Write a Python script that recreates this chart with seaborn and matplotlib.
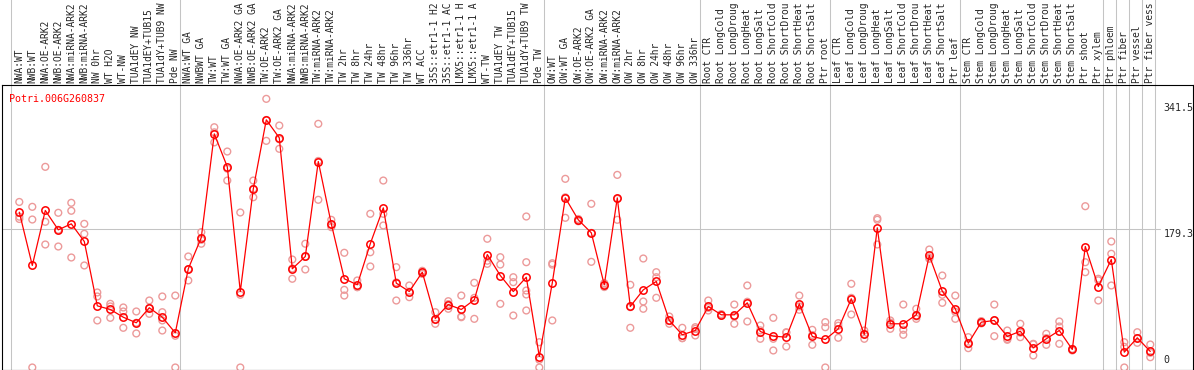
import numpy as np
import pandas as pd
import matplotlib
matplotlib.use('Agg')
import matplotlib.pyplot as plt
import seaborn as sns

# --- Data ---
gene_id = 'Potri.006G260837'

# sample names as far as the reference shows them (long ones are cut there)
samples = [
    'NWA:WT', 'NWB:WT', 'NWA:OE-ARK2', 'NWB:OE-ARK2', 'NWA:miRNA-ARK2', 'NWB:miRNA-ARK2',
    'NW 0hr', 'WT H2O', 'WT-NW', 'TUA1dEY NW', 'TUA1dEY+TUB15', 'TUA1dY+TUB9 NW', 'Pde NW',
    'NWA:WT GA', 'NWBWT GA', 'TW:WT', 'TW:WT GA', 'NWA:OE-ARK2 GA', 'NWB:OE-ARK2 GA',
    'TW:OE-ARK2', 'TW:OE-ARK2 GA', 'NWA:miRNA-ARK2', 'NWB:miRNA-ARK2', 'TW:miRNA-ARK2',
    'TW:miRNA-ARK2', 'TW 2hr', 'TW 8hr', 'TW 24hr', 'TW 48hr', 'TW 96hr', 'TW 336hr',
    'WT ACC', '35S::etr1-1 H2', '35S::etr1-1 AC', 'LMX5::etr1-1 H', 'LMX5::etr1-1 A',
    'WT-TW', 'TUA1dEY TW', 'TUA1dEY+TUB15', 'TUA1dY+TUB9 TW', 'Pde TW',
    'OW:WT', 'OW:WT GA', 'OW:OE-ARK2', 'OW:OE-ARK2 GA', 'OW:miRNA-ARK2', 'OW:miRNA-ARK2',
    'OW 2hr', 'OW 8hr', 'OW 24hr', 'OW 48hr', 'OW 96hr', 'OW 336hr',
    'Root CTR', 'Root LongCold', 'Root LongDroug', 'Root LongHeat', 'Root LongSalt',
    'Root ShortCold', 'Root ShortDrou', 'Root ShortHeat', 'Root ShortSalt', 'Ptr root',
    'Leaf CTR', 'Leaf LongCold', 'Leaf LongDroug', 'Leaf LongHeat', 'Leaf LongSalt',
    'Leaf ShortCold', 'Leaf ShortDrou', 'Leaf ShortHeat', 'Leaf ShortSalt', 'Ptr leaf',
    'Stem CTR', 'Stem LongCold', 'Stem LongDroug', 'Stem LongHeat', 'Stem LongSalt',
    'Stem ShortCold', 'Stem ShortDrou', 'Stem ShortHeat', 'Stem ShortSalt', 'Ptr shoot',
    'Ptr xylem', 'Ptr phloem', 'Ptr fiber', 'Ptr vessel', 'Ptr fiber vess',
]

means = [
    200.8, 131.9, 203.0, 178.0, 185.7, 162.9, 79.7, 75.0, 65.0, 57.8, 77.2, 65.0, 44.8,
    127.6, 168.0, 302.0, 259.4, 98.2, 231.0, 320.2, 296.9, 127.6, 143.5, 266.3, 185.7,
    114.7, 106.9, 160.0, 206.4, 109.0, 98.2, 123.2, 63.3, 81.4, 75.0, 87.5, 146.0, 118.9,
    98.2, 116.7, 14.2,
    109.5, 219.3, 190.9, 174.1, 106.9, 219.3, 78.9, 100.4, 111.2, 60.8, 42.3, 47.8,
    78.9, 68.1, 68.1, 83.6, 46.5, 40.5, 39.2, 82.3, 40.1, 36.2,
    50.0, 88.8, 42.7, 180.6, 56.5, 56.5, 68.1, 144.8, 98.6, 75.9,
    31.4, 58.6, 60.8, 40.1, 46.9, 25.4, 37.1, 47.8, 23.3, 156.4, 104.7,
    139.6, 19.8, 38.4, 20.7,
]

replicates = [
    [214, 195, 192], [207.7, 191.3, 0], [259.4, 188.3, 159], [200, 178, 156.4],
    [212.9, 202.6, 142.2], [185.7, 172.8, 131.9], [97, 91.8, 60.8], [82.3, 78.9, 64.2],
    [77.6, 72.4, 51.3], [72.4, 57.8, 44], [86.6, 77, 69.4], [91.8, 71.5, 60.8, 47.8],
    [93, 41, 0],
    [143.5, 127, 112.5], [175, 165, 160], [310.6, 304, 291], [279.2, 257, 241.7],
    [200.4, 94, 0], [241.7, 231, 220.1], [347.3, 320, 293], [312.8, 295, 282.7],
    [139.6, 128, 114.7], [160, 143, 126.7], [315, 267, 216.8], [190.9, 185, 181.4],
    [148.3, 100.4, 93], [112.5, 104, 103.8], [198.7, 149, 130.6], [241.7, 198.7, 183.6],
    [129.7, 110, 86.6], [106, 98, 90.9], [125, 123, 121], [71.5, 62, 56.5],
    [85.7, 82, 75.9], [93, 65.9, 65], [109.5, 90, 62.9], [166.4, 138, 134],
    [142.6, 133.1, 82.3], [116.7, 110.3, 67.2], [195.2, 136.1, 99.5, 94.4, 73.7],
    [32.7, 10, 0],
    [134.8, 133, 60.8], [243.9, 220, 193.5], [192, 189, 191], [211.6, 174, 136.6],
    [109, 104, 107], [249, 218, 190.9], [106.9, 78, 51.3], [140.9, 85.3, 75.9],
    [123.2, 116.7, 90.1], [65.9, 60, 56.5], [51.3, 38, 37.9], [52.1, 50, 41.4],
    [86.6, 77, 73.7], [69, 67, 68], [81.4, 66, 56.5], [106, 85, 59.5], [54.3, 48, 37.1],
    [64.2, 37.1, 22], [45.6, 45, 27.1], [93, 79, 74.6], [48.7, 42, 29.3], [58.6, 52.1, 0],
    [57.3, 54, 38.4], [108.2, 90, 68.5], [47.8, 43, 37.1], [193, 191, 159], [60.8, 58, 50],
    [81.4, 48.7, 42.3], [75.9, 66, 62.9], [152.5, 142, 140.5], [118.9, 94, 83.6],
    [93, 72, 62.9],
    [39.2, 30, 25], [60, 57, 59], [81.4, 61, 40.5], [47.8, 37, 35.8], [56.5, 45, 39.2],
    [30.6, 30, 15.5], [43.6, 38, 29.3], [59.5, 53, 30.6], [24, 22, 23],
    [208.5, 136.1, 123.2], [114.7, 112.7, 86.6],
    [162.9, 147, 106], [32.7, 26.7, 0], [45.6, 38, 31.9], [29.7, 19, 13.3],
]

# first sample index of each group (plus the end) -> vertical separators
group_starts = [0, 13, 41, 53, 63, 73, 84, 85, 86, 87, 88]
y_ticks = [341.5, 179.3, 0]
y_tick_labels = ['341.5', '179.3', '0']

# --- Build tables ---
mean_df = pd.DataFrame({'pos': np.arange(len(samples)), 'value': means})
rep_df = pd.DataFrame(
    [(i, v) for i, vals in enumerate(replicates) for v in vals],
    columns=['pos', 'value'],
)

# --- Plot ---
sns.set_style('white')
plt.rcParams['font.family'] = ['DejaVu Sans Mono']
font_size = 7.2
label_size = 6.9

W, H = 1194, 370
fig = plt.figure(figsize=(W / 100, H / 100), dpi=100)
ax = fig.add_axes([1.5 / W, 0.5 / H, 1191.5 / W, 284.5 / H])

grey = '#c4c4c4'
ax_height_px = 284.5
for g in group_starts:
    ax.axvline(g - 0.62, ymin=0, ymax=1 + 86 / ax_height_px, color=grey,
               lw=0.75, clip_on=False, zorder=0)
ax.axhline(y_ticks[1], xmin=0, xmax=0.972, color=grey, lw=0.75, zorder=0)

sns.scatterplot(data=rep_df, x='pos', y='value', ax=ax, marker='o', s=24,
                facecolors='none', edgecolor='#ec9a9a', linewidth=1.0,
                zorder=2, legend=False)
sns.lineplot(data=mean_df, x='pos', y='value', ax=ax, color='red', lw=0.9,
             marker='o', markersize=5.3, markerfacecolor='none',
             markeredgecolor='red', markeredgewidth=1.1, zorder=3)

ax.set_xlim(-1.369, 90.285)
ax.set_ylim(-2.6, 365.2)
ax.set_xlabel('')
ax.set_ylabel('')

ax.xaxis.tick_top()
ax.set_xticks(range(len(samples)))
ax.set_xticklabels(samples, rotation=90, fontsize=label_size)
ax.tick_params(axis='x', length=0, pad=1.5)
ax.set_yticks([])

for s in ax.spines.values():
    s.set_color('black')
    s.set_linewidth(0.8)

# value labels on the right, inside the frame
ax.text(88, y_ticks[0], y_tick_labels[0], ha='left', va='top', fontsize=font_size)
ax.text(88, y_ticks[1], y_tick_labels[1], ha='left', va='top', fontsize=font_size)
ax.text(88, y_ticks[2] + 3, y_tick_labels[2], ha='left', va='bottom', fontsize=font_size)

fig.text(9.5 / W, (H - 102) / H, gene_id, color='red', fontsize=font_size,
         ha='left', va='baseline')

fig.savefig('out.png', dpi=100)
